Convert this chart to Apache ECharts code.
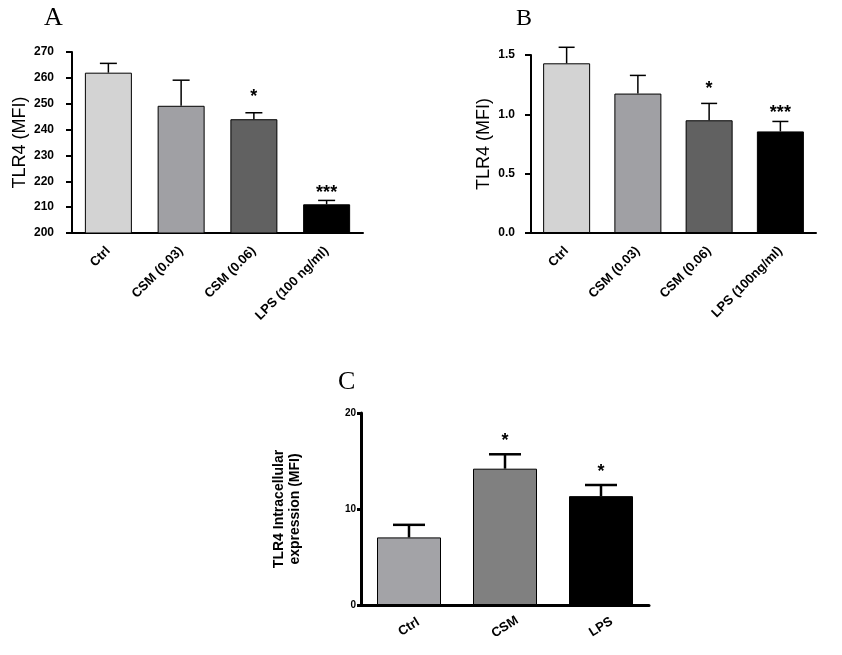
<!DOCTYPE html>
<html>
<head>
<meta charset="utf-8">
<script src="https://cdn.jsdelivr.net/npm/echarts@6/dist/echarts.min.js"></script>
<style>
html,body{margin:0;padding:0;background:#fff;}
#c{width:842px;height:655px;}
</style>
</head>
<body>
<div id="c"></div>
<script>
// ---- data ----
const catsA = ['Ctrl', 'CSM (0.03)', 'CSM (0.06)', 'LPS (100 ng/ml)'];
const meanA = [262, 249.2, 244, 211.1];
const errA = [265.6, 259.1, 246.5, 212.6];
const sigA = ['', '', '*', '***'];
const ticksA = [200, 270, 10];

const catsB = ['Ctrl', 'CSM (0.03)', 'CSM (0.06)', 'LPS (100ng/ml)'];
const meanB = [1.43, 1.175, 0.95, 0.856];
const errB = [1.565, 1.328, 1.092, 0.94];
const sigB = ['', '', '*', '***'];
const ticksB = [0, 1.5, 0.5];

const catsC = ['Ctrl', 'CSM', 'LPS'];
const meanC = [7.04, 14.2, 11.34];
const errC = [8.35, 15.7, 12.5];
const sigC = ['', '*', '*'];
const ticksC = [0, 20, 10];

const colorsAB = ['#d3d3d3', '#a0a0a4', '#616161', '#000000'];
const colorsC = ['#a3a3a7', '#808080', '#000000'];

const FONT = '"Liberation Sans", Arial, sans-serif';

function barData(means, colors) {
  return means.map((v, i) => ({ value: v, itemStyle: { color: colors[i] } }));
}
function errData(means, errs) {
  return means.map((v, i) => [i, v, errs[i]]);
}
function makeErr(sig, capW, lw, starSize, gapOne, gapThree) {
  return function (params, api) {
    const i = api.value(0);
    const base = api.coord([i, api.value(1)]);
    const top = api.coord([i, api.value(2)]);
    const children = [
      { type: 'line', shape: { x1: base[0], y1: base[1], x2: top[0], y2: top[1] },
        style: { stroke: '#000', lineWidth: lw } },
      { type: 'line', shape: { x1: top[0] - capW / 2, y1: top[1], x2: top[0] + capW / 2, y2: top[1] },
        style: { stroke: '#000', lineWidth: lw } }
    ];
    const s = sig[params.dataIndex];
    if (s) {
      const g = s.length > 1 ? gapThree : gapOne;
      children.push({ type: 'text', x: top[0], y: top[1] - g,
        style: { text: s, fill: '#000', font: 'bold ' + starSize + 'px ' + FONT,
          align: 'center', verticalAlign: 'middle' } });
    }
    return { type: 'group', children: children };
  };
}

const chart = echarts.init(document.getElementById('c'), null, { renderer: 'canvas' });

function xAxisCfg(grid, cats, label, lw) {
  return {
    type: 'category', gridIndex: grid, data: cats,
    axisLine: { lineStyle: { color: '#000', width: lw } },
    axisTick: { alignWithLabel: true, length: 5, lineStyle: { color: '#000', width: lw } },
    axisLabel: Object.assign({ color: '#000', fontFamily: FONT, fontWeight: 'bold', interval: 0 }, label)
  };
}
function yAxisCfg(grid, t, name, nameFs, nameWeight, nameGap, labFs, labMargin, lw, tickLen) {
  return {
    type: 'value', gridIndex: grid, min: t[0], max: t[1], interval: t[2],
    name: name, nameLocation: 'middle', nameGap: nameGap,
    nameTextStyle: { color: '#000', fontFamily: FONT, fontSize: nameFs, fontWeight: nameWeight, lineHeight: nameFs + 2 },
    axisLine: { show: true, lineStyle: { color: '#000', width: lw } },
    axisTick: { show: true, length: tickLen, lineStyle: { color: '#000', width: lw } },
    splitLine: { show: false },
    axisLabel: { color: '#000', fontFamily: FONT, fontWeight: 'bold', fontSize: labFs, margin: labMargin,
      formatter: function (v) { return t[2] < 1 ? v.toFixed(1) : String(v); } }
  };
}

const option = {
  animation: false,
  backgroundColor: '#fff',
  graphic: [
    { type: 'text', left: 44, top: 5, style: { text: 'A', font: '26px "Liberation Serif", "Times New Roman", serif', fill: '#000' } },
    { type: 'text', left: 516, top: 7, style: { text: 'B', font: '24px "Liberation Serif", "Times New Roman", serif', fill: '#000' } },
    { type: 'text', left: 338, top: 369, style: { text: 'C', font: '26px "Liberation Serif", "Times New Roman", serif', fill: '#000' } }
  ],
  grid: [
    { left: 72, top: 52, width: 291, height: 181 },
    { left: 531, top: 55, width: 285, height: 178 },
    { left: 361, top: 413, width: 288, height: 192 }
  ],
  xAxis: [
    xAxisCfg(0, catsA, { rotate: 45, fontSize: 13, margin: 16 }, 2),
    xAxisCfg(1, catsB, { rotate: 45, fontSize: 13, margin: 16 }, 2),
    xAxisCfg(2, catsC, { rotate: 32, fontSize: 13, margin: 22, align: 'center', verticalAlign: 'middle' }, 3)
  ],
  yAxis: [
    yAxisCfg(0, ticksA, 'TLR4 (MFI)', 18, 'normal', 38, 12, 18, 2, 6),
    yAxisCfg(1, ticksB, 'TLR4 (MFI)', 18, 'normal', 35, 12, 16, 2, 6),
    yAxisCfg(2, ticksC, 'TLR4 Intracellular\nexpression (MFI)', 14, 'bold', 58, 10, 5, 3, 4)
  ],
  series: [
    { type: 'bar', xAxisIndex: 0, yAxisIndex: 0, data: barData(meanA, colorsAB), barWidth: 47,
      itemStyle: { borderColor: '#000', borderWidth: 1 } },
    { type: 'custom', xAxisIndex: 0, yAxisIndex: 0, data: errData(meanA, errA), renderItem: makeErr(sigA, 17, 1.5, 18, 16, 7), z: 3 },
    { type: 'bar', xAxisIndex: 1, yAxisIndex: 1, data: barData(meanB, colorsAB), barWidth: 47,
      itemStyle: { borderColor: '#000', borderWidth: 1 } },
    { type: 'custom', xAxisIndex: 1, yAxisIndex: 1, data: errData(meanB, errB), renderItem: makeErr(sigB, 16, 1.5, 18, 14, 8), z: 3 },
    { type: 'bar', xAxisIndex: 2, yAxisIndex: 2, data: barData(meanC, colorsC), barWidth: 64,
      itemStyle: { borderColor: '#000', borderWidth: 1 } },
    { type: 'custom', xAxisIndex: 2, yAxisIndex: 2, data: errData(meanC, errC), renderItem: makeErr(sigC, 32, 2.5, 18, 13, 13), z: 3 }
  ]
};
chart.setOption(option);
</script>
</body>
</html>
